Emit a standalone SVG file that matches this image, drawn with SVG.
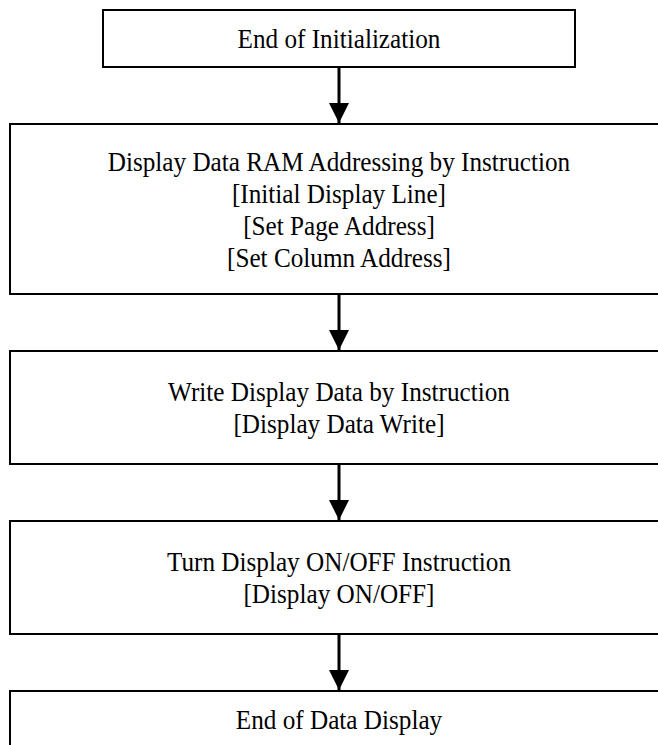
<svg xmlns="http://www.w3.org/2000/svg" width="658" height="745" viewBox="0 0 658 745">
<style>
.box{fill:#fff;stroke:#000;stroke-width:2}
.t{font-family:"Liberation Serif","Times New Roman",serif;font-size:28px;fill:#000;text-anchor:middle}
.c{stroke:#000;stroke-width:3;fill:none}
</style>
<defs>
<marker id="ah" markerUnits="userSpaceOnUse" markerWidth="20" markerHeight="20" refX="20" refY="10" orient="auto">
<path d="M0,0 L20,10 L0,20 Z" fill="#000"/>
</marker>
</defs>
<rect width="658" height="745" fill="#fff"/>
<g id="connectors">
<line class="c" x1="339" y1="67" x2="339" y2="123" marker-end="url(#ah)"/>
<line class="c" x1="339" y1="294" x2="339" y2="350" marker-end="url(#ah)"/>
<line class="c" x1="339" y1="464" x2="339" y2="520" marker-end="url(#ah)"/>
<line class="c" x1="339" y1="634" x2="339" y2="690" marker-end="url(#ah)"/>
</g>
<g id="n1">
<rect class="box" x="103" y="10" width="472" height="57"/>
<g transform="matrix(0.9,0,0,1,33.9,0)">
<text class="t" x="339" y="48">End of Initialization</text>
</g>
</g>
<g id="n2">
<rect class="box" x="10" y="124" width="670" height="170"/>
<g transform="matrix(0.9,0,0,1,33.9,0)">
<text class="t" x="339" y="171">Display Data RAM Addressing by Instruction</text>
<text class="t" x="339" y="203">[Initial Display Line]</text>
<text class="t" x="339" y="235">[Set Page Address]</text>
<text class="t" x="339" y="267">[Set Column Address]</text>
</g>
</g>
<g id="n3">
<rect class="box" x="10" y="351" width="670" height="113"/>
<g transform="matrix(0.9,0,0,1,33.9,0)">
<text class="t" x="339" y="401">Write Display Data by Instruction</text>
<text class="t" x="339" y="433">[Display Data Write]</text>
</g>
</g>
<g id="n4">
<rect class="box" x="10" y="521" width="670" height="113"/>
<g transform="matrix(0.9,0,0,1,33.9,0)">
<text class="t" x="339" y="571">Turn Display ON/OFF Instruction</text>
<text class="t" x="339" y="603">[Display ON/OFF]</text>
</g>
</g>
<g id="n5">
<rect class="box" x="10" y="691" width="670" height="80"/>
<g transform="matrix(0.9,0,0,1,33.9,0)">
<text class="t" x="339" y="729">End of Data Display</text>
</g>
</g>
</svg>
